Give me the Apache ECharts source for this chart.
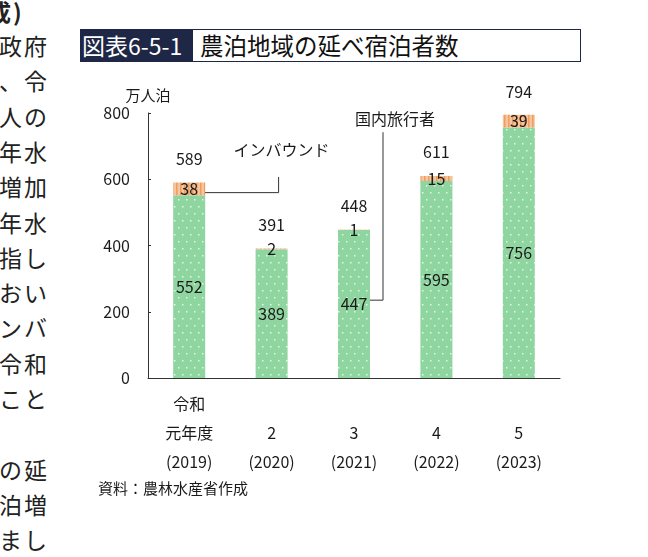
<!DOCTYPE html>
<html>
<head>
<meta charset="utf-8">
<script src="https://cdn.jsdelivr.net/npm/echarts@6/dist/echarts.min.js"></script>
<style>
body{margin:0;background:#fff;font-family:"Noto Sans CJK JP",sans-serif;}
#wrap{position:relative;width:648px;height:557px;overflow:hidden;}
.side{position:absolute;font-size:23px;letter-spacing:2px;color:#222;line-height:30px;white-space:nowrap;}
#ttl{position:absolute;left:80px;top:29px;width:501px;height:33px;border:1px solid #1e2746;box-sizing:border-box;}
#ttl .num{position:absolute;left:0;top:0;bottom:0;width:112px;background:#1e2746;color:#fff;font-size:23px;line-height:30px;padding-left:1px;box-sizing:border-box;white-space:nowrap;}
#ttl .txt{position:absolute;left:119px;top:0;font-size:23.5px;line-height:30px;color:#111;white-space:nowrap;}
#chart{position:absolute;left:0;top:0;width:648px;height:557px;}
</style>
</head>
<body>
<div id="wrap">
  <div id="side"></div>
  <div id="ttl"><div class="num">図表6-5-1</div><div class="txt">農泊地域の延べ宿泊者数</div></div>
  <div id="chart"></div>
</div>
<script type="text/javascript">
// 本文の切れ端（左の列）
var sideLines = ['政府', '、令', '人の', '年水', '増加', '年水', '指し', 'おい', 'ンバ', '令和', 'こと', '', 'の延', '泊増', 'まし'];

// グラフのデータ（万人泊）
var categories = ['令和\n元年度\n(2019)', ' \n2\n(2020)', ' \n3\n(2021)', ' \n4\n(2022)', ' \n5\n(2023)'];
var domestic = [552, 389, 447, 595, 756];
var inbound = [38, 2, 1, 15, 39];
var totals = [589, 391, 448, 611, 794];

var side = document.getElementById('side');
var top0 = document.createElement('div');
top0.className = 'side';
top0.style.left = '-12px';
top0.style.top = '-4px';
top0.style.fontWeight = 'bold';
top0.textContent = '成)';
side.appendChild(top0);
sideLines.forEach(function (s, i) {
    var d = document.createElement('div');
    d.className = 'side';
    d.style.left = '-1px';
    d.style.top = (30 + i * 35.3) + 'px';
    d.textContent = s;
    side.appendChild(d);
});

// 模様
function dotPattern() {
    var c = document.createElement('canvas');
    c.width = 8; c.height = 14;
    var g = c.getContext('2d');
    g.fillStyle = '#8fd5a0';
    g.fillRect(0, 0, 8, 14);
    g.fillStyle = 'rgba(255,255,255,0.75)';
    g.fillRect(2, 3, 1.5, 1.5);
    g.fillRect(6, 10, 1.5, 1.5);
    return c;
}
function stripePattern() {
    var c = document.createElement('canvas');
    c.width = 4; c.height = 4;
    var g = c.getContext('2d');
    g.fillStyle = '#f7c49c';
    g.fillRect(0, 0, 4, 4);
    g.fillStyle = '#ee9c5f';
    g.fillRect(0, 0, 1.5, 4);
    return c;
}

var font = '"Noto Sans CJK JP", sans-serif';
var myChart = echarts.init(document.getElementById('chart'));
var option = {
    animation: false,
    textStyle: { fontFamily: font },
    grid: { left: 148, right: 88, top: 113, bottom: 179 },
    xAxis: {
        type: 'category',
        data: categories,
        axisLine: { lineStyle: { color: '#333', width: 1 } },
        axisTick: { show: false },
        axisLabel: { color: '#1a1a1a', fontSize: 16, lineHeight: 29, margin: 11, interval: 0 }
    },
    yAxis: {
        type: 'value',
        min: 0, max: 800, interval: 200,
        name: '万人泊',
        nameLocation: 'end',
        nameGap: 10,
        nameTextStyle: { color: '#1a1a1a', fontSize: 15, align: 'center' },
        axisLine: { show: true, lineStyle: { color: '#333', width: 1 } },
        axisTick: { show: true, inside: true, length: 3, lineStyle: { color: '#333' } },
        axisLabel: { color: '#1a1a1a', fontSize: 16, margin: 18 },
        splitLine: { show: false }
    },
    series: [
        {
            name: '国内旅行者',
            type: 'bar',
            stack: 'total',
            barWidth: 32,
            itemStyle: { color: { image: dotPattern(), repeat: 'repeat' } },
            label: { show: true, position: 'inside', color: '#1a1a1a', fontSize: 16 },
            data: domestic
        },
        {
            name: 'インバウンド',
            type: 'bar',
            stack: 'total',
            barWidth: 32,
            itemStyle: { color: { image: stripePattern(), repeat: 'repeat' } },
            label: { show: true, position: 'inside', color: '#1a1a1a', fontSize: 16 },
            data: inbound
        },
        {
            name: '合計',
            type: 'scatter',
            symbolSize: 1,
            itemStyle: { color: 'rgba(0,0,0,0)', opacity: 1 },
            label: { show: true, position: 'top', distance: 15, color: '#1a1a1a', fontSize: 16 },
            data: totals
        }
    ]
};
myChart.setOption(option);

// 引き出し線と注記
function px(i, v) { return myChart.convertToPixel({ xAxisIndex: 0, yAxisIndex: 0 }, [i, v]); }
var a0 = px(0, domestic[0] + inbound[0] * 0.2);
var a1 = px(1, 607);
var aT = px(1, 688);
var b0 = px(2, 742);
var b1 = px(2, 235);
var bT = px(2, 782);
myChart.setOption({
    graphic: [
        {
            type: 'polyline',
            shape: { points: [[a0[0] + 15, a0[1]], [a1[0] + 7, a0[1]], [a1[0] + 7, a1[1]]] },
            style: { stroke: '#333', lineWidth: 1, fill: null }
        },
        {
            type: 'text',
            x: aT[0] + 10, y: aT[1],
            style: { text: 'インバウンド', font: '16px ' + font, fill: '#1a1a1a', align: 'center', verticalAlign: 'middle' }
        },
        {
            type: 'polyline',
            shape: { points: [[b0[0] + 29, b0[1]], [b0[0] + 29, b1[1]], [b1[0] + 15, b1[1]]] },
            style: { stroke: '#333', lineWidth: 1, fill: null }
        },
        {
            type: 'text',
            x: bT[0] + 41, y: bT[1],
            style: { text: '国内旅行者', font: '16px ' + font, fill: '#1a1a1a', align: 'center', verticalAlign: 'middle' }
        },
        {
            type: 'text',
            left: 98, top: 481,
            style: { text: '資料：農林水産省作成', font: '15px ' + font, fill: '#1a1a1a' }
        }
    ]
});
</script>
</body>
</html>
